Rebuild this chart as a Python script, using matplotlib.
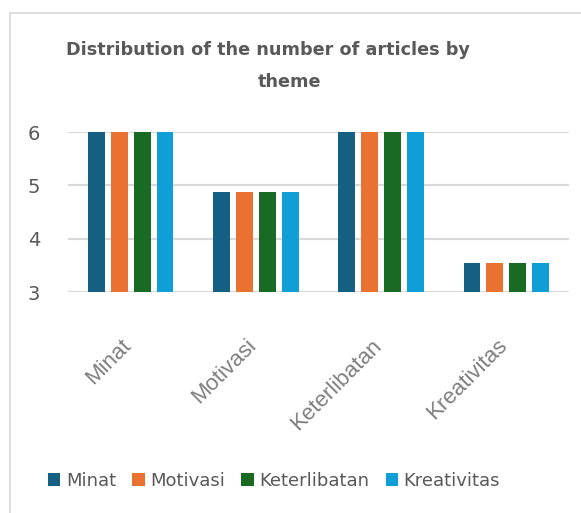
import matplotlib.pyplot as plt
import matplotlib.transforms as mtransforms
import numpy as np
from matplotlib.patches import Rectangle

# datos
categorias = ["Minat", "Motivasi", "Keterlibatan", "Kreativitas"]
series = ["Minat", "Motivasi", "Keterlibatan", "Kreativitas"]
minat = [6, 4.87, 6, 3.55]
motivasi = [6, 4.87, 6, 3.55]
keterlibatan = [6, 4.87, 6, 3.55]
kreativitas = [6, 4.87, 6, 3.55]
valores = [minat, motivasi, keterlibatan, kreativitas]
colores = ["#156082", "#E97132", "#196B24", "#0F9ED5"]
gris = "#595959"

plt.rcParams['font.family'] = ['DejaVu Sans']

fig = plt.figure(figsize=(5.81, 5.13), dpi=100)
# marco del grafico
fig.patches.append(Rectangle((10 / 581, -0.1), 1.2, 1 - 13 / 513 + 0.1,
                             transform=fig.transFigure, fill=False,
                             edgecolor="#d9d9d9", linewidth=1.2))

ax = fig.add_axes([68 / 581, 1 - 292 / 513, 501 / 581, 160 / 513])

x = np.arange(len(categorias))
ancho = 0.135
paso = 0.183
for i, (nombre, v) in enumerate(zip(series, valores)):
    ax.bar(x + (i - 1.5) * paso, np.array(v) - 3, bottom=3, width=ancho,
           color=colores[i], label=nombre, zorder=3)

ax.set_ylim(3, 6)
ax.set_xlim(-0.5, 3.5)
ax.set_yticks([3, 4, 5, 6])
ax.grid(axis='y', color="#d9d9d9", linewidth=1.5, zorder=0)
for s in ax.spines.values():
    s.set_visible(False)
ax.tick_params(axis='y', length=0, pad=20, labelsize=14, labelcolor=gris)
ax.tick_params(axis='x', length=0, pad=31, labelsize=16, labelcolor="#7f7f7f")
ax.set_xticks(x)
ax.set_xticklabels(categorias, rotation=45, ha='right', rotation_mode='anchor',
                   family='Liberation Sans')
# desplazo un poco las etiquetas a la izquierda
desplaza = mtransforms.ScaledTranslation(-10 / 100, 0, fig.dpi_scale_trans)
for t in ax.get_xticklabels():
    t.set_transform(t.get_transform() + desplaza)
ax.axhline(3, color="#d9d9d9", linewidth=1.5, zorder=1)

fig.text(268 / 581, 1 - 50 / 513, "Distribution of the number of articles by",
         ha='center', va='center', fontsize=12.7, color=gris, fontweight='bold')
fig.text(290 / 581, 1 - 82 / 513, "theme", ha='center', va='center',
         fontsize=12.7, color=gris, fontweight='bold')

fig.legend(loc='center', bbox_to_anchor=(274 / 581, 1 - 481 / 513), ncol=4,
           frameon=False, fontsize=13, labelcolor=gris, handlelength=0.7,
           handleheight=0.7, handletextpad=0.3, columnspacing=0.9)

plt.savefig("out.png", dpi=100)
